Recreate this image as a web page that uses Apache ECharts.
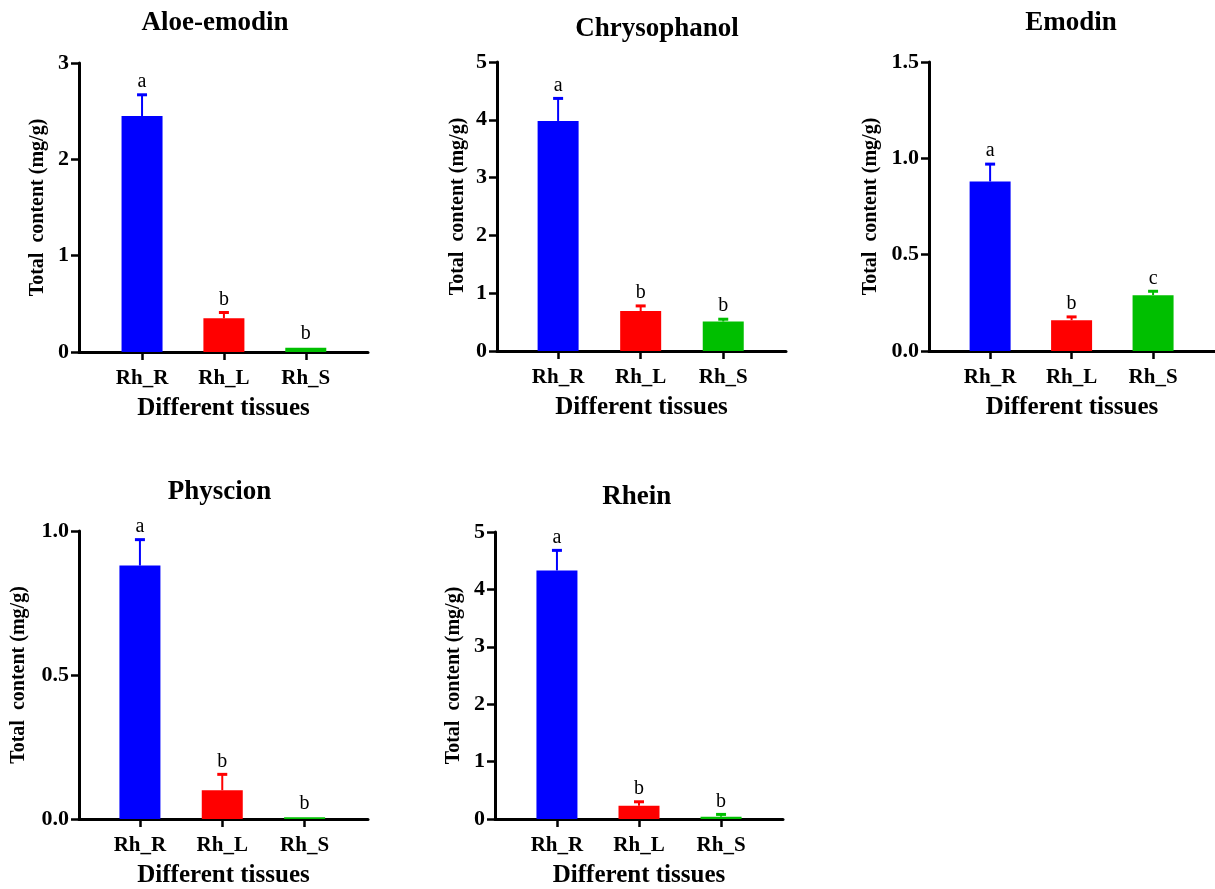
<!DOCTYPE html>
<html><head><meta charset="utf-8">
<script src="https://cdn.jsdelivr.net/npm/echarts@6/dist/echarts.min.js"></script>
<style>html,body{margin:0;padding:0;background:#fff}#c{width:1215px;height:889px}</style>
</head><body><div id="c"></div>
<script>
// ---- data ----
const categories = ['Rh_R', 'Rh_L', 'Rh_S'];
const panelTitles = ['Aloe-emodin', 'Chrysophanol', 'Emodin', 'Physcion', 'Rhein'];
const yAxisTitle = 'Total  content (mg/g)';
const xAxisTitle = 'Different tissues';

const aloeMean = [2.45, 0.35, 0.045];
const aloeSD = [0.22, 0.06, 0.005];
const aloeLetters = ['a', 'b', 'b'];
const aloeTicks = [0, 1, 2, 3];

const chrysMean = [3.98, 0.69, 0.51];
const chrysSD = [0.39, 0.09, 0.04];
const chrysLetters = ['a', 'b', 'b'];
const chrysTicks = [0, 1, 2, 3, 4, 5];

const emodinMean = [0.88, 0.16, 0.29];
const emodinSD = [0.09, 0.017, 0.02];
const emodinLetters = ['a', 'b', 'c'];
const emodinTicks = [0.0, 0.5, 1.0, 1.5];

const physMean = [0.88, 0.10, 0.006];
const physSD = [0.09, 0.055, 0.002];
const physLetters = ['a', 'b', 'b'];
const physTicks = [0.0, 0.5, 1.0];

const rheinMean = [4.33, 0.23, 0.04];
const rheinSD = [0.35, 0.07, 0.04];
const rheinLetters = ['a', 'b', 'b'];
const rheinTicks = [0, 1, 2, 3, 4, 5];

const barColors = ['#0000FF', '#FF0000', '#00BF00'];

const panels = [
  {mean: aloeMean, sd: aloeSD, letters: aloeLetters, ticks: aloeTicks, dec: 0},
  {mean: chrysMean, sd: chrysSD, letters: chrysLetters, ticks: chrysTicks, dec: 0},
  {mean: emodinMean, sd: emodinSD, letters: emodinLetters, ticks: emodinTicks, dec: 1},
  {mean: physMean, sd: physSD, letters: physLetters, ticks: physTicks, dec: 1},
  {mean: rheinMean, sd: rheinSD, letters: rheinLetters, ticks: rheinTicks, dec: 0}
];

// ---- layout (positions / styles only) ----
const layout = [
  {left: 79, top: 63, width: 289, height: 289, xmin: -0.77, xmax: 2.76, gap: 31, tx: 215, ty: 10},
  {left: 497, top: 62, width: 289, height: 289, xmin: -0.74, xmax: 2.76, gap: 29, tx: 657, ty: 16},
  {left: 929, top: 62, width: 289, height: 289, xmin: -0.75, xmax: 2.76, gap: 48, tx: 1071, ty: 10},
  {left: 79, top: 531, width: 289, height: 288, xmin: -0.74, xmax: 2.77, gap: 50, tx: 219.5, ty: 479},
  {left: 495, top: 532, width: 288, height: 289, xmin: -0.755, xmax: 2.755, gap: 31, tx: 636.7, ty: 484}
];

const FONT = '"Liberation Serif", "Times New Roman", serif';

const chart = echarts.init(document.getElementById('c'), null, {renderer: 'canvas'});

const option = {
  animation: false,
  backgroundColor: '#fff',
  title: [], grid: [], xAxis: [], yAxis: [], series: []
};

panels.forEach((p, i) => {
  const L = layout[i];
  option.title.push({
    text: panelTitles[i], left: L.tx, top: L.ty, textAlign: 'center', padding: 0,
    textStyle: {fontFamily: FONT, fontWeight: 'bold', fontSize: 27, color: '#000'}
  });
  option.grid.push({left: L.left, top: L.top, width: L.width, height: L.height, containLabel: false});
  option.xAxis.push({
    type: 'value', gridIndex: i, min: L.xmin, max: L.xmax,
    name: xAxisTitle, nameLocation: 'middle', nameGap: 44,
    nameTextStyle: {fontFamily: FONT, fontWeight: 'bold', fontSize: 25, color: '#000'},
    axisLine: {show: true, onZero: false, lineStyle: {color: '#000', width: 3}},
    axisTick: {show: true, customValues: [0, 1, 2], length: 8, lineStyle: {color: '#000', width: 2.5}},
    axisLabel: {show: true, customValues: [0, 1, 2], margin: 16,
      formatter: v => categories[Math.round(v)] || '',
      fontFamily: FONT, fontWeight: 'bold', fontSize: 21, color: '#000'},
    splitLine: {show: false}
  });
  const t = p.ticks;
  option.yAxis.push({
    type: 'value', gridIndex: i, min: t[0], max: t[t.length - 1], interval: t[1] - t[0],
    name: yAxisTitle, nameLocation: 'middle', nameGap: L.gap, nameRotate: 90,
    nameTextStyle: {fontFamily: FONT, fontWeight: 'bold', fontSize: 20, color: '#000'},
    axisLine: {show: true, onZero: false, lineStyle: {color: '#000', width: 3}},
    axisTick: {show: true, length: 8, lineStyle: {color: '#000', width: 2.5}},
    axisLabel: {margin: 10, formatter: v => v.toFixed(p.dec),
      fontFamily: FONT, fontWeight: 'bold', fontSize: 22, color: '#000'},
    splitLine: {show: false}
  });
  option.series.push({
    type: 'bar', xAxisIndex: i, yAxisIndex: i, barWidth: 41,
    data: p.mean.map((m, k) => ({value: [k, m], itemStyle: {color: barColors[k]}})),
    z: 2
  });
  const letters = p.letters;
  option.series.push({
    type: 'custom', xAxisIndex: i, yAxisIndex: i, z: 3,
    data: p.mean.map((m, k) => [k, m, m + p.sd[k]]),
    renderItem: (params, api) => {
      const k = params.dataIndex;
      const base = api.coord([api.value(0), api.value(1)]);
      const top = api.coord([api.value(0), api.value(2)]);
      const col = barColors[k];
      const children = [];
      if (base[1] - top[1] > 1.5) {
        children.push({type: 'line', shape: {x1: top[0], y1: base[1], x2: top[0], y2: top[1]},
          style: {stroke: col, lineWidth: 2}});
        children.push({type: 'line', shape: {x1: top[0] - 5, y1: top[1], x2: top[0] + 5, y2: top[1]},
          style: {stroke: col, lineWidth: 3}});
      }
      children.push({type: 'text', x: top[0], y: top[1] - 3,
        style: {text: letters[k], align: 'center', verticalAlign: 'bottom',
          font: '20px ' + FONT, fill: '#000'}});
      return {type: 'group', children};
    }
  });
});

chart.setOption(option);
</script>
</body></html>
